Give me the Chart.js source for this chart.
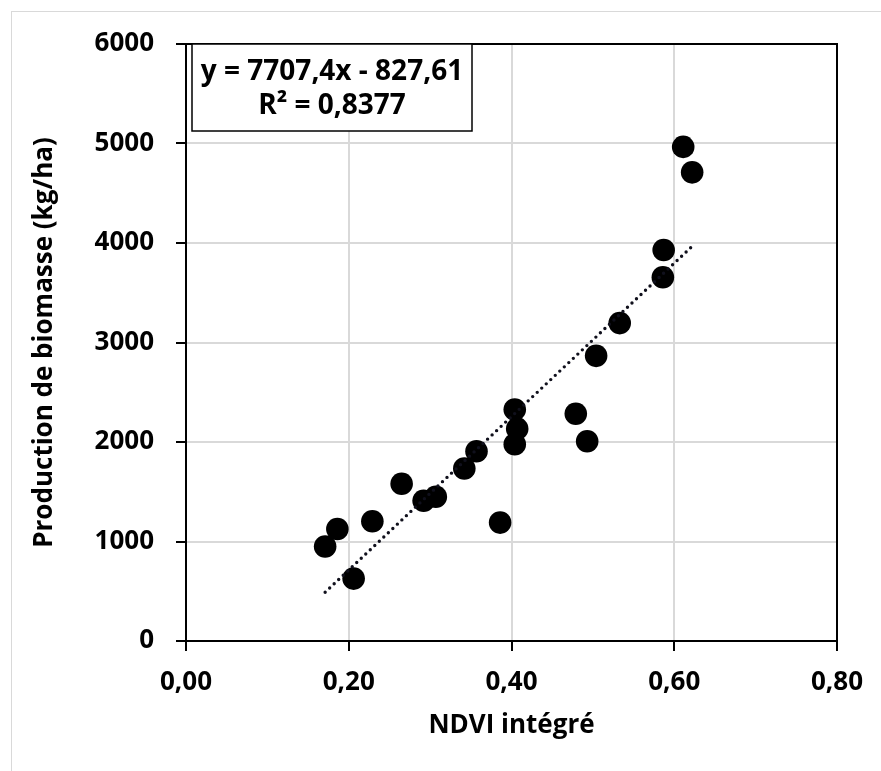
<!DOCTYPE html>
<html>
<head>
<meta charset="utf-8">
<script src="https://cdn.jsdelivr.net/npm/chart.js@4.4.1/dist/chart.umd.min.js"></script>
<style>
  html, body { margin: 0; padding: 0; background: #fff; }
  #wrap { width: 881px; height: 771px; position: relative; }
</style>
</head>
<body>
<div id="wrap"><canvas id="chart"></canvas></div>
<script>
// NDVI integre (x) vs production de biomasse kg/ha (y)
const ndvi = [0.171, 0.186, 0.206, 0.229, 0.265, 0.292, 0.307, 0.342, 0.357, 0.386, 0.404,
  0.407, 0.404, 0.479, 0.493, 0.504, 0.533, 0.586, 0.587, 0.611, 0.622];
const biomasse = [950, 1125, 627, 1204, 1580, 1410, 1450, 1734, 1907, 1190, 2327,
  2134, 1977, 2284, 2007, 2866, 3195, 3656, 3930, 4966, 4710];

// linear trend as printed on the chart
const slope = 7707.4;
const intercept = -827.61;
const equationLines = ['y = 7707,4x - 827,61', 'R² = 0,8377'];

const xTicks = [0, 0.2, 0.4, 0.6, 0.8];
const yTicks = [0, 1000, 2000, 3000, 4000, 5000, 6000];

const points = ndvi.map((x, i) => ({ x: x, y: biomasse[i] }));
const xMin = Math.min(...ndvi);
const xMax = Math.max(...ndvi);
const trend = [
  { x: xMin, y: slope * xMin + intercept },
  { x: xMax, y: slope * xMax + intercept }
];

const FONT = '"Open Sans", Lato, sans-serif';
Chart.defaults.font.family = FONT;
Chart.defaults.font.weight = 'bold';
Chart.defaults.color = '#000';

const frame = {
  id: 'frame',
  beforeDraw(chart) {
    const ctx = chart.ctx;
    ctx.save();
    ctx.strokeStyle = '#d9d9d9';
    ctx.lineWidth = 1;
    ctx.strokeRect(11.5, 11.5, 1000, 1000);
    ctx.restore();
  },
  beforeDatasetsDraw(chart) {
    const a = chart.chartArea;
    const ctx = chart.ctx;
    ctx.save();
    ctx.strokeStyle = '#000';
    ctx.lineWidth = 2;
    ctx.strokeRect(a.left, a.top, a.right - a.left, a.bottom - a.top);
    ctx.restore();
  },
  afterDraw(chart) {
    const a = chart.chartArea;
    const ctx = chart.ctx;
    const bx = a.left + 6, by = a.top, bw = 280, bh = 87;
    ctx.save();
    ctx.fillStyle = '#fff';
    ctx.fillRect(bx, by, bw, bh);
    ctx.strokeStyle = '#000';
    ctx.lineWidth = 1.5;
    ctx.strokeRect(bx, by, bw, bh);
    ctx.fillStyle = '#000';
    ctx.font = 'bold 28px ' + FONT;
    ctx.textAlign = 'center';
    ctx.textBaseline = 'middle';
    ctx.fillText(equationLines[0], bx + bw / 2, by + 28);
    ctx.fillText(equationLines[1], bx + bw / 2, by + 62);
    ctx.restore();
  }
};

new Chart(document.getElementById('chart'), {
  type: 'scatter',
  data: {
    datasets: [
      {
        label: 'Tendance',
        data: trend,
        showLine: true,
        borderColor: '#10101c',
        borderWidth: 3.4,
        borderDash: [0, 6.2],
        borderCapStyle: 'round',
        pointRadius: 0,
        pointHoverRadius: 0,
        order: 0
      },
      {
        label: 'Biomasse',
        data: points,
        backgroundColor: '#000',
        borderWidth: 0,
        pointRadius: 11.3,
        pointHoverRadius: 11.3,
        order: 1
      }
    ]
  },
  options: {
    responsive: true,
    maintainAspectRatio: false,
    animation: false,
    layout: { padding: { left: 0, top: 44, right: 44, bottom: 0 } },
    plugins: {
      legend: { display: false },
      tooltip: { enabled: false }
    },
    scales: {
      x: {
        type: 'linear',
        min: 0,
        max: 0.8,
        afterFit(scale) { scale.height = 130; },
        afterBuildTicks(scale) { scale.ticks = xTicks.map(v => ({ value: v })); },
        ticks: {
          font: { size: 26, weight: 'bold' },
          padding: 16,
          callback: v => v.toFixed(2).replace('.', ',')
        },
        grid: { color: '#d9d9d9', lineWidth: 2, tickColor: '#000', tickLength: 10, tickWidth: 2 },
        border: { color: '#000', width: 2 },
        title: {
          display: true,
          text: 'NDVI intégré',
          font: { size: 26, weight: 'bold' },
          padding: { top: 0, bottom: 30 }
        }
      },
      y: {
        type: 'linear',
        min: 0,
        max: 6000,
        afterFit(scale) { scale.width = 186; },
        afterBuildTicks(scale) { scale.ticks = yTicks.map(v => ({ value: v })); },
        ticks: {
          font: { size: 26, weight: 'bold' },
          padding: 22,
          callback: v => String(v)
        },
        grid: { color: '#d9d9d9', lineWidth: 2, tickColor: '#000', tickLength: 10, tickWidth: 2 },
        border: { color: '#000', width: 2 },
        title: {
          display: true,
          text: 'Production de biomasse (kg/ha)',
          font: { size: 26, weight: 'bold' },
          padding: { top: 29, bottom: 0 }
        }
      }
    }
  },
  plugins: [frame]
});
</script>
</body>
</html>
